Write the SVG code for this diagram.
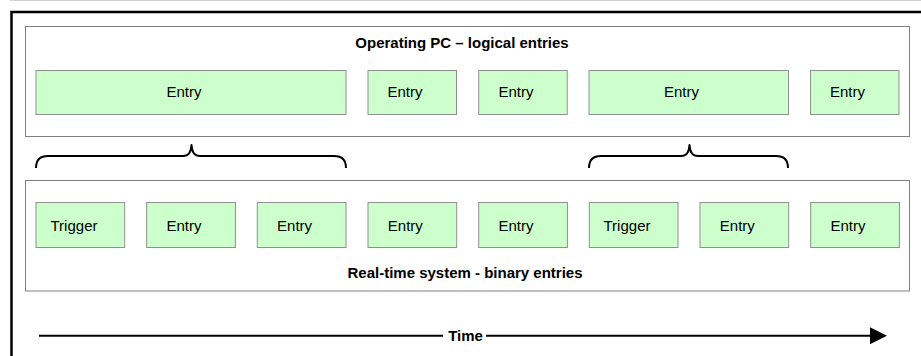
<svg xmlns="http://www.w3.org/2000/svg" width="921" height="356" viewBox="0 0 921 356">
  <defs>
    <style>
      .lane { fill: #ffffff; stroke: #808080; stroke-width: 1; }
      .box { fill: #ccffcc; stroke: #909090; stroke-width: 1; }
      .lbl { font-family: "Liberation Sans", Arial, sans-serif; font-size: 15px; fill: #000000; text-anchor: middle; }
      .bold { font-weight: bold; }
      .brace { fill: none; stroke: #000000; stroke-width: 2; stroke-linejoin: round; }
      .axis { fill: none; stroke: #000000; stroke-width: 2; }
    </style>
    <marker id="arrowHead" markerUnits="userSpaceOnUse" viewBox="0 0 17 17" refX="0" refY="8.5" markerWidth="17" markerHeight="17" orient="auto">
      <path d="M0,0 L17,8.5 L0,17 Z" fill="#000000"/>
    </marker>
  </defs>

  <rect x="0" y="0" width="921" height="356" fill="#ffffff"/>
  <!-- page edge and outer frame -->
  <line x1="10" y1="0.5" x2="921" y2="0.5" stroke="#d0d0d0" stroke-width="1"/>
  <rect x="11.5" y="12" width="940" height="400" fill="none" stroke="#000000" stroke-width="2.5"/>

  <!-- upper lane: logical entries on the operating PC -->
  <g id="lane-pc">
    <rect class="lane" x="25.5" y="26.5" width="884" height="110"/>
    <text class="lbl bold" x="462" y="48">Operating PC – logical entries</text>
  </g>
  <g id="pc-entry-1">
    <rect class="box" x="36" y="70.5" width="310" height="44"/>
    <text class="lbl" x="184" y="97">Entry</text>
  </g>
  <g id="pc-entry-2">
    <rect class="box" x="368" y="70.5" width="88.5" height="44"/>
    <text class="lbl" x="405" y="97">Entry</text>
  </g>
  <g id="pc-entry-3">
    <rect class="box" x="478.7" y="70.5" width="88.5" height="44"/>
    <text class="lbl" x="516" y="97">Entry</text>
  </g>
  <g id="pc-entry-4">
    <rect class="box" x="589" y="70.5" width="199.5" height="44"/>
    <text class="lbl" x="681.5" y="97">Entry</text>
  </g>
  <g id="pc-entry-5">
    <rect class="box" x="810.5" y="70.5" width="88.5" height="44"/>
    <text class="lbl" x="847.5" y="97">Entry</text>
  </g>

  <!-- lower lane: binary entries on the real-time system -->
  <g id="lane-rt">
    <rect class="lane" x="25.5" y="180.5" width="884" height="110.5"/>
    <text class="lbl bold" x="465" y="278">Real-time system - binary entries</text>
  </g>
  <g id="rt-trigger-1">
    <rect class="box" x="36" y="202.5" width="88.7" height="45"/>
    <text class="lbl" x="74" y="231">Trigger</text>
  </g>
  <g id="rt-entry-1">
    <rect class="box" x="146.7" y="202.5" width="88.7" height="45"/>
    <text class="lbl" x="184" y="231">Entry</text>
  </g>
  <g id="rt-entry-2">
    <rect class="box" x="257.3" y="202.5" width="88.7" height="45"/>
    <text class="lbl" x="294.6" y="231">Entry</text>
  </g>
  <g id="rt-entry-3">
    <rect class="box" x="368" y="202.5" width="88.7" height="45"/>
    <text class="lbl" x="405.3" y="231">Entry</text>
  </g>
  <g id="rt-entry-4">
    <rect class="box" x="478.7" y="202.5" width="88.7" height="45"/>
    <text class="lbl" x="516" y="231">Entry</text>
  </g>
  <g id="rt-trigger-2">
    <rect class="box" x="589.3" y="202.5" width="88.7" height="45"/>
    <text class="lbl" x="627" y="231">Trigger</text>
  </g>
  <g id="rt-entry-5">
    <rect class="box" x="700" y="202.5" width="88.7" height="45"/>
    <text class="lbl" x="737.3" y="231">Entry</text>
  </g>
  <g id="rt-entry-6">
    <rect class="box" x="810.7" y="202.5" width="88.7" height="45"/>
    <text class="lbl" x="848" y="231">Entry</text>
  </g>

  <!-- braces grouping binary entries into logical entries, and the time axis -->
  <g id="connectors">
    <path class="brace" d="M36,168 Q36,156 48,156 L183,156 Q191,156 191.5,145 Q192,156 200,156 L334,156 Q346,156 346,168"/>
    <path class="brace" d="M589,168 Q589,156 601,156 L681,156 Q689,156 689.5,145 Q690,156 698,156 L776,156 Q788,156 788,168"/>
    <line class="axis" x1="39" y1="335.7" x2="443" y2="335.7"/>
    <line class="axis" x1="486" y1="335.7" x2="870" y2="335.7" marker-end="url(#arrowHead)"/>
    <text class="lbl bold" x="465.5" y="341">Time</text>
  </g>
</svg>
